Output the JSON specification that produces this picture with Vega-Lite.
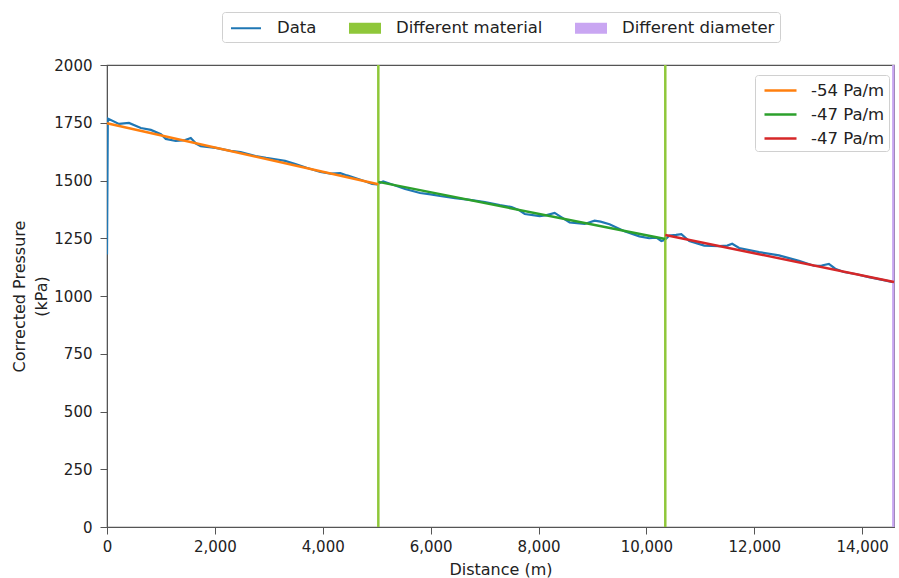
{
  "$schema": "https://vega.github.io/schema/vega-lite/v6.json",
  "width": 787,
  "height": 462,
  "autosize": {"type": "none"},
  "padding": {"left": 107, "top": 65, "right": 5, "bottom": 51},
  "background": "white",
  "config": {
    "font": "DejaVu Sans",
    "view": {"stroke": "#555", "strokeWidth": 1.2},
    "axis": {
      "labelFont": "DejaVu Sans", "labelFontSize": 15, "labelColor": "#222",
      "titleFont": "DejaVu Sans", "titleFontSize": 16, "titleFontWeight": "normal", "titleColor": "#222",
      "domainColor": "#555", "tickColor": "#555", "grid": false, "tickSize": 7, "labelFlush": false
    },
    "legend": {"labelFont": "DejaVu Sans", "labelColor": "#222"}
  },
  "datasets": {
    "series": [
      {"d": 0, "p": 1180, "k": "Data"}, {"d": 15, "p": 1768, "k": "Data"}, {"d": 222, "p": 1745, "k": "Data"},
      {"d": 407, "p": 1749, "k": "Data"}, {"d": 628, "p": 1727, "k": "Data"}, {"d": 813, "p": 1719, "k": "Data"},
      {"d": 1000, "p": 1700, "k": "Data"}, {"d": 1090, "p": 1680, "k": "Data"}, {"d": 1275, "p": 1671, "k": "Data"},
      {"d": 1450, "p": 1675, "k": "Data"}, {"d": 1553, "p": 1684, "k": "Data"}, {"d": 1650, "p": 1660, "k": "Data"},
      {"d": 1737, "p": 1649, "k": "Data"}, {"d": 2015, "p": 1641, "k": "Data"}, {"d": 2292, "p": 1628, "k": "Data"},
      {"d": 2477, "p": 1623, "k": "Data"}, {"d": 2754, "p": 1606, "k": "Data"}, {"d": 2950, "p": 1598, "k": "Data"},
      {"d": 3124, "p": 1592, "k": "Data"}, {"d": 3300, "p": 1585, "k": "Data"}, {"d": 3494, "p": 1571, "k": "Data"},
      {"d": 3700, "p": 1555, "k": "Data"}, {"d": 3956, "p": 1537, "k": "Data"}, {"d": 4150, "p": 1530, "k": "Data"},
      {"d": 4325, "p": 1532, "k": "Data"}, {"d": 4450, "p": 1522, "k": "Data"}, {"d": 4603, "p": 1511, "k": "Data"},
      {"d": 4780, "p": 1497, "k": "Data"}, {"d": 4917, "p": 1485, "k": "Data"}, {"d": 5000, "p": 1483, "k": "Data"},
      {"d": 5065, "p": 1490, "k": "Data"}, {"d": 5120, "p": 1496, "k": "Data"}, {"d": 5342, "p": 1478, "k": "Data"},
      {"d": 5527, "p": 1463, "k": "Data"}, {"d": 5804, "p": 1446, "k": "Data"}, {"d": 6000, "p": 1440, "k": "Data"},
      {"d": 6174, "p": 1433, "k": "Data"}, {"d": 6451, "p": 1424, "k": "Data"}, {"d": 6728, "p": 1416, "k": "Data"},
      {"d": 7006, "p": 1407, "k": "Data"}, {"d": 7283, "p": 1394, "k": "Data"}, {"d": 7500, "p": 1385, "k": "Data"},
      {"d": 7652, "p": 1370, "k": "Data"}, {"d": 7745, "p": 1355, "k": "Data"}, {"d": 8022, "p": 1346, "k": "Data"},
      {"d": 8150, "p": 1350, "k": "Data"}, {"d": 8299, "p": 1360, "k": "Data"}, {"d": 8400, "p": 1345, "k": "Data"},
      {"d": 8577, "p": 1318, "k": "Data"}, {"d": 8854, "p": 1312, "k": "Data"}, {"d": 9039, "p": 1326, "k": "Data"},
      {"d": 9150, "p": 1322, "k": "Data"}, {"d": 9316, "p": 1311, "k": "Data"}, {"d": 9593, "p": 1280, "k": "Data"},
      {"d": 9870, "p": 1258, "k": "Data"}, {"d": 10050, "p": 1250, "k": "Data"}, {"d": 10185, "p": 1253, "k": "Data"},
      {"d": 10277, "p": 1238, "k": "Data"}, {"d": 10340, "p": 1242, "k": "Data"}, {"d": 10425, "p": 1262, "k": "Data"},
      {"d": 10550, "p": 1265, "k": "Data"}, {"d": 10647, "p": 1268, "k": "Data"}, {"d": 10795, "p": 1238, "k": "Data"},
      {"d": 11072, "p": 1218, "k": "Data"}, {"d": 11349, "p": 1216, "k": "Data"}, {"d": 11500, "p": 1218, "k": "Data"},
      {"d": 11590, "p": 1226, "k": "Data"}, {"d": 11719, "p": 1208, "k": "Data"}, {"d": 12089, "p": 1190, "k": "Data"},
      {"d": 12458, "p": 1176, "k": "Data"}, {"d": 12828, "p": 1152, "k": "Data"}, {"d": 13105, "p": 1131, "k": "Data"},
      {"d": 13250, "p": 1132, "k": "Data"}, {"d": 13383, "p": 1139, "k": "Data"}, {"d": 13500, "p": 1118, "k": "Data"},
      {"d": 13660, "p": 1104, "k": "Data"}, {"d": 13900, "p": 1094, "k": "Data"}, {"d": 14122, "p": 1082, "k": "Data"},
      {"d": 14399, "p": 1069, "k": "Data"}, {"d": 14590, "p": 1059, "k": "Data"}
    ],
    "changes": [
      {"d": 5030, "k": "Different material"},
      {"d": 10350, "k": "Different material"},
      {"d": 14578, "k": "Different diameter"}
    ],
    "fits": [
      {"d": 0, "p": 1748, "s": "s1"}, {"d": 5030, "p": 1484, "s": "s1"},
      {"d": 5030, "p": 1494, "s": "s2"}, {"d": 10350, "p": 1247, "s": "s2"},
      {"d": 10350, "p": 1264, "s": "s3"}, {"d": 14590, "p": 1061, "s": "s3"}
    ]
  },
  "layer": [
    {
      "data": {"name": "series"},
      "mark": {"type": "line", "strokeWidth": 2.2, "clip": true},
      "encoding": {
        "x": {"field": "d", "type": "quantitative", "scale": {"domain": [0, 14590], "nice": false, "zero": false},
          "axis": {"values": [0, 2000, 4000, 6000, 8000, 10000, 12000, 14000], "format": ",d", "title": "Distance (m)", "titlePadding": 7, "labelPadding": 5}},
        "y": {"field": "p", "type": "quantitative", "scale": {"domain": [0, 2000], "nice": false},
          "axis": {"values": [0, 250, 500, 750, 1000, 1250, 1500, 1750, 2000], "format": "d", "title": ["Corrected Pressure", "(kPa)"], "titlePadding": 4, "titleLineHeight": 22, "labelPadding": 8}},
        "color": {"field": "k", "type": "nominal",
          "scale": {"domain": ["Data", "Different material", "Different diameter"], "range": ["#1f77b4", "#8fc73a", "#c9a6f2"]},
          "legend": {
            "orient": "none", "legendX": 115, "legendY": -53, "direction": "horizontal", "columns": 3,
            "title": null, "strokeColor": "#d0d0d0", "padding": 5, "cornerRadius": 3,
            "labelFontSize": 16.5, "symbolSize": 400, "columnPadding": 29, "labelOffset": 20, "symbolOffset": 8,
            "labelExpr": "datum.value === 'Different material' ? 'Different material      ' : datum.value",
            "symbolStrokeWidth": 2,
            "encode": {"symbols": {"update": {
              "shape": [{"test": "datum.value === 'Data'", "value": "M-1.5,0H1.5"}, {"value": "M-1.5,-0.45H1.5V0.45H-1.5Z"}],
              "fill": [{"test": "datum.value === 'Different material'", "value": "#8fc73a"}, {"test": "datum.value === 'Different diameter'", "value": "#c9a6f2"}, {"value": "transparent"}],
              "stroke": [{"test": "datum.value === 'Data'", "value": "#1f77b4"}, {"value": "transparent"}],
              "strokeWidth": {"value": 2},
              "opacity": {"value": 1}
            }}}
          }}
      }
    },
    {
      "data": {"name": "changes"},
      "mark": {"type": "rule", "strokeWidth": 2.5},
      "encoding": {
        "x": {"field": "d", "type": "quantitative"},
        "color": {"field": "k", "type": "nominal"}
      }
    },
    {
      "data": {"name": "fits"},
      "mark": {"type": "line", "strokeWidth": 2.5},
      "encoding": {
        "x": {"field": "d", "type": "quantitative"},
        "y": {"field": "p", "type": "quantitative"},
        "detail": {"field": "s"},
        "stroke": {"field": "s", "type": "nominal",
          "scale": {"domain": ["s1", "s2", "s3"], "range": ["#ff7f0e", "#2ca02c", "#d62728"]},
          "legend": {
            "orient": "none", "legendX": 648, "legendY": 10, "title": null,
            "labelExpr": "datum.value === 's1' ? '-54 Pa/m' : '-47 Pa/m'",
            "strokeColor": "#d0d0d0", "padding": 4, "cornerRadius": 3,
            "labelFontSize": 16.5, "symbolType": "M-1.6,0H1.6", "symbolSize": 400, "symbolStrokeWidth": 2.5,
            "rowPadding": 4, "labelOffset": 19, "symbolOffset": 10
          }}
      }
    }
  ]
}
